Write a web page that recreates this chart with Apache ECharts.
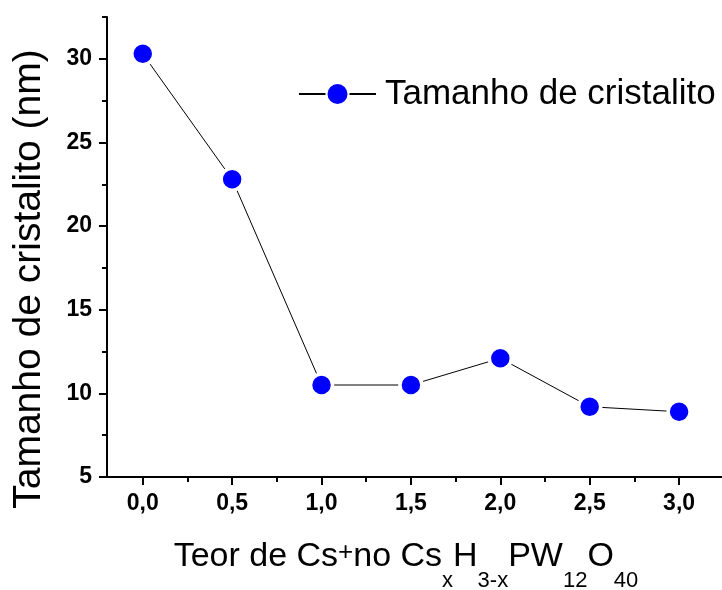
<!DOCTYPE html>
<html>
<head>
<meta charset="utf-8">
<script src="https://cdn.jsdelivr.net/npm/echarts@6/dist/echarts.min.js"></script>
<style>
  html, body { margin: 0; padding: 0; background: #fff; }
  #chart { width: 722px; height: 590px; }
</style>
</head>
<body>
<div id="chart"></div>
<script>
// Crystallite size vs. Cs+ content in CsxH3-xPW12O40
const csContent = [0.0, 0.5, 1.0, 1.5, 2.0, 2.5, 3.0];
const crystalliteSize = [30.3, 22.8, 10.5, 10.5, 12.1, 9.2, 8.9];
const seriesName = 'Tamanho de cristalito';

const xMajorTicks = [0.0, 0.5, 1.0, 1.5, 2.0, 2.5, 3.0];
const xMinorTicks = [0.25, 0.75, 1.25, 1.75, 2.25, 2.75, 3.25];
const yMajorTicks = [5, 10, 15, 20, 25, 30];
const yMinorTicks = [7.5, 12.5, 17.5, 22.5, 27.5, 32.5];

const FONT = '"Liberation Sans", Arial, sans-serif';
const X_MIN = -0.2, X_MAX = 3.24, Y_MIN = 5, Y_MAX = 32.5;

const points = csContent.map((x, i) => [x, crystalliteSize[i]]);

function commaDecimal(v) { return v.toFixed(1).replace('.', ','); }

// Extra axis on the same grid that only draws the short minor ticks
function minorTickAxis(kind, values) {
  return {
    type: 'value', offset: 0,
    min: kind === 'x' ? X_MIN : Y_MIN, max: kind === 'x' ? X_MAX : Y_MAX,
    position: kind === 'x' ? 'bottom' : 'left',
    axisLine: { show: false, onZero: false },
    splitLine: { show: false },
    axisLabel: { show: false },
    axisTick: { show: true, customValues: values, length: 5, lineStyle: { color: '#000', width: 2 } }
  };
}

const chart = echarts.init(document.getElementById('chart'));

chart.setOption({
  animation: false,
  grid: { left: 107, top: 17, right: 0, bottom: 113, containLabel: false, outerBoundsMode: 'none' },
  xAxis: [
    {
      type: 'value', min: X_MIN, max: X_MAX,
      axisLine: { onZero: false, lineStyle: { color: '#000', width: 2 } },
      splitLine: { show: false },
      axisTick: { show: true, customValues: xMajorTicks, length: 8, lineStyle: { color: '#000', width: 2 } },
      axisLabel: {
        customValues: xMajorTicks, formatter: commaDecimal, margin: 15, hideOverlap: false,
        fontFamily: FONT, fontWeight: 'bold', fontSize: 23, color: '#000'
      }
    },
    minorTickAxis('x', xMinorTicks)
  ],
  yAxis: [
    {
      type: 'value', min: Y_MIN, max: Y_MAX,
      axisLine: { show: true, onZero: false, lineStyle: { color: '#000', width: 2 } },
      splitLine: { show: false },
      axisTick: { show: true, customValues: yMajorTicks, length: 8, lineStyle: { color: '#000', width: 2 } },
      axisLabel: {
        customValues: yMajorTicks, margin: 15, hideOverlap: false,
        fontFamily: FONT, fontWeight: 'bold', fontSize: 23, color: '#000'
      }
    },
    minorTickAxis('y', yMinorTicks)
  ],
  legend: {
    show: true, left: 298, top: 74, padding: 0, itemWidth: 77, itemHeight: 27.5,
    textStyle: { fontFamily: FONT, fontSize: 35, color: '#000', padding: [0, 0, 0, 4], lineHeight: 40 },
    data: [seriesName]
  },
  series: [{
    name: seriesName, type: 'line', data: points,
    symbol: 'circle', symbolSize: 22,
    lineStyle: { color: '#000', width: 1 },
    itemStyle: { color: '#0000ff', borderColor: '#fff', borderWidth: 3.5 }
  }],
  graphic: [
    {
      type: 'text', x: 29, y: 279, rotation: Math.PI / 2,
      style: {
        text: 'Tamanho de cristalito (nm)', fill: '#000',
        font: '39px ' + FONT, align: 'center', verticalAlign: 'middle'
      }
    },
    {
      type: 'text', x: 406, y: 540,
      style: {
        text: '{m|Teor de Cs}{sup|+}{m|no Cs}{sub|x}{m|H}{sub|3-x}{m|PW}{sub|12}{m|O}{sub|40}',
        align: 'center', verticalAlign: 'top',
        rich: {
          m:   { fontFamily: FONT, fontSize: 34, lineHeight: 34, verticalAlign: 'top', fill: '#000' },
          sup: { fontFamily: FONT, fontSize: 26, lineHeight: 10, verticalAlign: 'top', fill: '#000' },
          sub: { fontFamily: FONT, fontSize: 22, lineHeight: 22, padding: [30, 0, 0, 0], verticalAlign: 'top', fill: '#000' }
        }
      }
    }
  ]
});

// Keep every axis tick line drawn, even if a layout pass flagged it as hidden
function revealTickLines() {
  const zr = chart.getZr();
  let changed = false;
  function walk(el) {
    if (el.type === 'line' && el.ignore) { el.ignore = false; changed = true; }
    if (el.isGroup) el.eachChild(walk);
  }
  zr.storage.getRoots().forEach(walk);
  if (changed) zr.refreshImmediately();
}
revealTickLines();
chart.on('finished', revealTickLines);
</script>
</body>
</html>
